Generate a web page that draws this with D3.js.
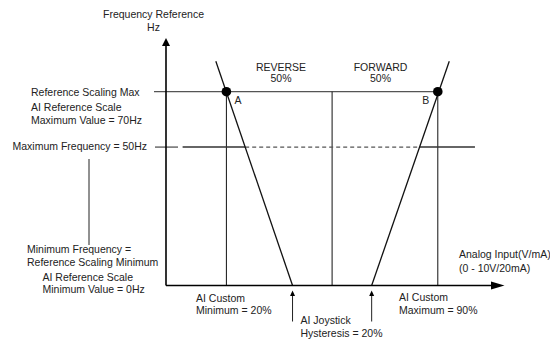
<!DOCTYPE html>
<html>
<head>
<meta charset="utf-8">
<script src="https://cdn.jsdelivr.net/npm/d3@7"></script>
<style>
  body { margin: 0; background: #fff; }
  svg text { font-family: "Liberation Sans", Arial, sans-serif; font-size: 10.5px; fill: #222; }
</style>
</head>
<body>
<script>
// analog input in %, frequency in Hz
const aiCustomMin = 20;
const aiCustomMax = 90;
const aiCentre = 55;
const refScaleMax = 70;
const maxFreq = 50;
const reverseLine = [[16.5, 81], [41.9, 0]];
const forwardLine = [[68.1, 0], [93.8, 81]];
const hysteresisMarks = [41.9, 68.1];
const pointLabels = [{ name: 'A', x: aiCustomMin }, { name: 'B', x: aiCustomMax }];
const dirLabels = [['REVERSE', '50%'], ['FORWARD', '50%']];

const w = 550, h = 339;
const x = d3.scaleLinear().domain([0, 100]).range([166, 468]);
const y = d3.scaleLinear().domain([0, 70]).range([285.5, 91.7]);

const svg = d3.select('body').append('svg').attr('width', w).attr('height', h);

const line = d3.line().x(d => x(d[0])).y(d => y(d[1]));

// reference scaling max line
svg.append('line')
   .attr('x1', 154).attr('x2', x(aiCustomMax))
   .attr('y1', y(refScaleMax)).attr('y2', y(refScaleMax))
   .attr('stroke', '#555').attr('stroke-width', 1.3);

// vertical guides at custom min / centre / custom max
svg.selectAll('.guide')
   .data([aiCustomMin, aiCentre, aiCustomMax])
   .enter().append('line')
   .attr('class', 'guide')
   .attr('x1', d => x(d)).attr('x2', d => x(d))
   .attr('y1', y(refScaleMax)).attr('y2', y(0))
   .attr('stroke', '#111').attr('stroke-width', 1);

// max frequency line: solid - dashed - solid
function crossX(seg, v) {
  const [a, b] = seg;
  return a[0] + (v - a[1]) * (b[0] - a[0]) / (b[1] - a[1]);
}
const xr = crossX(reverseLine, maxFreq), xf = crossX(forwardLine, maxFreq);
svg.append('line').attr('x1', 155).attr('x2', 178)
   .attr('y1', y(maxFreq)).attr('y2', y(maxFreq))
   .attr('stroke', '#222').attr('stroke-width', 1);
svg.append('path').attr('d', line([[5.5, maxFreq], [xr, maxFreq]]))
   .attr('stroke', '#333').attr('stroke-width', 1.6).attr('fill', 'none');
svg.append('path').attr('d', line([[xr, maxFreq], [xf, maxFreq]]))
   .attr('stroke', '#555').attr('stroke-width', 1.3).attr('fill', 'none')
   .attr('stroke-dasharray', '4,3');
svg.append('path').attr('d', line([[xf, maxFreq], [102.3, maxFreq]]))
   .attr('stroke', '#333').attr('stroke-width', 1.6).attr('fill', 'none');

// reverse / forward ramps
[reverseLine, forwardLine].forEach(seg => {
  svg.append('path').attr('d', line(seg))
     .attr('stroke', '#111').attr('stroke-width', 1.3).attr('fill', 'none');
});

// axes with arrows
svg.append('line').attr('x1', x(0)).attr('x2', x(0)).attr('y1', y(0)).attr('y2', 45)
   .attr('stroke', '#000').attr('stroke-width', 1.6);
svg.append('path').attr('d', `M${x(0) - 4},46 L${x(0)},38 L${x(0) + 4},46 Z`).attr('fill', '#000');
svg.append('line').attr('x1', x(0)).attr('x2', 492).attr('y1', y(0)).attr('y2', y(0))
   .attr('stroke', '#000').attr('stroke-width', 1.6);
svg.append('path').attr('d', `M491,${y(0) - 4} L504.5,${y(0)} L491,${y(0) + 4} Z`).attr('fill', '#000');

// points A and B
svg.selectAll('.pt')
   .data(pointLabels)
   .enter().append('circle')
   .attr('class', 'pt')
   .attr('cx', d => x(d.x)).attr('cy', y(refScaleMax)).attr('r', 4.8)
   .attr('fill', '#000');
svg.append('text').text('A').attr('x', x(aiCustomMin) + 8).attr('y', 103.5);
svg.append('text').text('B').attr('x', x(aiCustomMax) - 15.5).attr('y', 103.5);

// hysteresis arrows under x axis
hysteresisMarks.forEach(v => {
  const cx = x(v);
  svg.append('line').attr('x1', cx).attr('x2', cx).attr('y1', 295).attr('y2', 321.5)
     .attr('stroke', '#222').attr('stroke-width', 1);
  svg.append('path').attr('d', `M${cx - 2.5},296 L${cx},290.5 L${cx + 2.5},296 Z`).attr('fill', '#000');
});

// left connector for min frequency label
svg.append('line').attr('x1', 89).attr('x2', 89).attr('y1', 159).attr('y2', 245)
   .attr('stroke', '#222').attr('stroke-width', 1);

// texts
function txt(s, tx, ty, anchor) {
  svg.append('text').text(s).attr('x', tx).attr('y', ty).attr('text-anchor', anchor || 'start');
}
txt('Frequency Reference', 153.5, 17.5, 'middle');
txt('Hz', 153.5, 31, 'middle');

txt('Reference Scaling Max', 31, 95.5);
txt('AI Reference Scale', 31, 111);
txt('Maximum Value = 70Hz', 31, 123.5);
txt('Maximum Frequency = 50Hz', 12.5, 149.5);

txt('Minimum Frequency =', 27, 253);
txt('Reference Scaling Minimum', 27, 265.5);
txt('AI Reference Scale', 42.5, 280.5);
txt('Minimum Value = 0Hz', 42.5, 292.5);

txt('AI Custom', 196, 301.5);
txt('Minimum = ' + aiCustomMin + '%', 196, 314);
txt('AI Joystick', 300.5, 324);
txt('Hysteresis = 20%', 300.5, 336.5);
txt('AI Custom', 399, 301);
txt('Maximum = ' + aiCustomMax + '%', 399, 314);

txt('Analog Input(V/mA)', 459, 258);
txt('(0 - 10V/20mA)', 459, 271.5);

txt(dirLabels[0][0], 281, 70.5, 'middle');
txt(dirLabels[0][1], 281, 82, 'middle');
txt(dirLabels[1][0], 380.5, 70.5, 'middle');
txt(dirLabels[1][1], 380.5, 82, 'middle');
</script>
</body>
</html>
